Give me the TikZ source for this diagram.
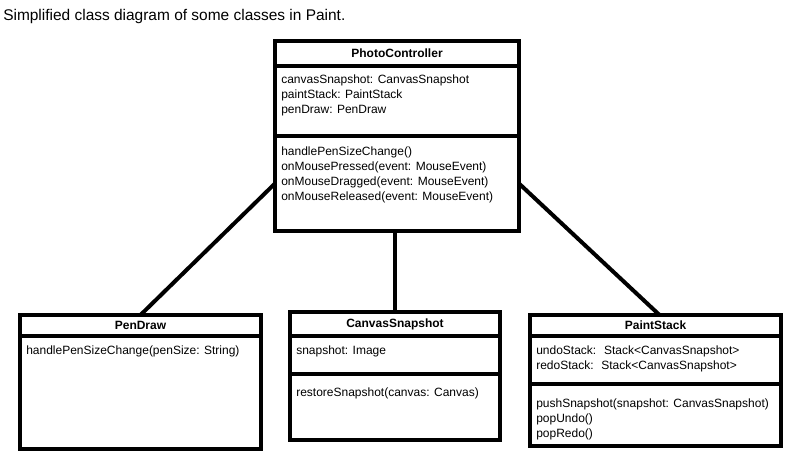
\documentclass[tikz,border=0pt]{standalone}
\usepackage{fontspec}
\setmainfont{Liberation Sans}
\usepackage{tikz}
\usetikzlibrary{positioning}
\tikzset{
  umlpart/.style={draw, line width=3.4pt, outer sep=0pt, inner sep=0pt, fill=white},
  umlhead/.style={umlpart, font=\fontsize{9}{11.25}\selectfont\bfseries},
  member/.style={inner sep=0pt, align=left, font=\fontsize{9}{11.25}\selectfont},
  link/.style={line width=3pt}
}

\begin{document}
\begin{tikzpicture}[x=0.75pt, y=-0.75pt]
  \useasboundingbox (0,0) rectangle (793,460);
  \node[anchor=base west, inner sep=0pt, font=\fontsize{11.6}{14}\selectfont] (title) at (3,20.5) {Simplified class diagram of some classes in Paint.};

  % PhotoController
  \node[umlhead, anchor=north west, minimum width=183pt, minimum height=18.75pt] (pchead) at (275,41) {PhotoController};
  \node[umlpart, below=0pt of pchead, minimum width=183pt, minimum height=52.5pt] (pcattr) {};
  \node[umlpart, below=0pt of pcattr, minimum width=183pt, minimum height=71.25pt] (pcmeth) {};
  \node[member, below right=6.75pt and 4.5pt of pcattr.north west] (pcattrtext) {canvasSnapshot: CanvasSnapshot\\paintStack: PaintStack\\penDraw: PenDraw};
  \node[member, below right=8.25pt and 4.5pt of pcmeth.north west] (pcmethtext) {handlePenSizeChange()\\onMousePressed(event: MouseEvent)\\onMouseDragged(event: MouseEvent)\\onMouseReleased(event: MouseEvent)};

  % PenDraw
  \node[umlhead, anchor=north west, minimum width=180.75pt, minimum height=15.75pt] (pdhead) at (20,315) {PenDraw};
  \node[umlpart, below=0pt of pdhead, minimum width=180.75pt, minimum height=84.75pt] (pdmeth) {};
  \node[member, below right=7.5pt and 4.5pt of pdmeth.north west] (pdmethtext) {handlePenSizeChange(penSize: String)};

  % CanvasSnapshot
  \node[umlhead, anchor=north west, minimum width=157.5pt, minimum height=18pt] (cshead) at (290,312) {CanvasSnapshot};
  \node[umlpart, below=0pt of cshead, minimum width=157.5pt, minimum height=28.5pt] (csattr) {};
  \node[umlpart, below=0pt of csattr, minimum width=157.5pt, minimum height=49.5pt] (csmeth) {};
  \node[member, below right=7.5pt and 4.5pt of csattr.north west] (csattrtext) {snapshot: Image};
  \node[member, below right=10.25pt and 4.5pt of csmeth.north west] (csmethtext) {restoreSnapshot(canvas: Canvas)};

  % PaintStack
  \node[umlhead, anchor=north west, minimum width=188.25pt, minimum height=15.75pt] (pshead) at (530,315) {PaintStack};
  \node[umlpart, below=0pt of pshead, minimum width=188.25pt, minimum height=36pt] (psattr) {};
  \node[umlpart, below=0pt of psattr, minimum width=188.25pt, minimum height=46.5pt] (psmeth) {};
  \node[member, below right=7.5pt and 4.5pt of psattr.north west] (psattrtext) {undoStack:~ Stack<CanvasSnapshot>\\redoStack:~ Stack<CanvasSnapshot>};
  \node[member, below right=11pt and 4.5pt of psmeth.north west] (psmethtext) {pushSnapshot(snapshot: CanvasSnapshot)\\popUndo()\\popRedo()};

  % associations
  \draw[link] (pcmeth.west) -- (pdhead.north);
  \draw[link] (cshead.north) -- (cshead.north |- pcmeth.south);
  \draw[link] (pcmeth.east) -- ([xshift=3pt]pshead.north);
\end{tikzpicture}
\end{document}
